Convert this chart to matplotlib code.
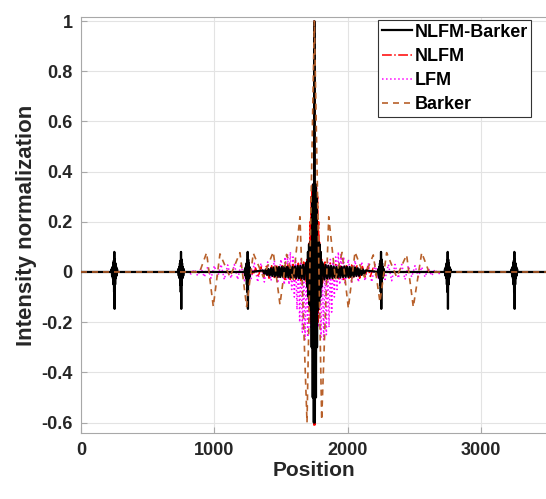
import numpy as np
import matplotlib
matplotlib.use("Agg")
import matplotlib.pyplot as plt

plt.rcParams['font.family'] = ['Liberation Sans', 'DejaVu Sans']

# ---------------- data ----------------
x_ticks = [0, 1000, 2000, 3000]
y_ticks = [-0.6, -0.4, -0.2, 0, 0.2, 0.4, 0.6, 0.8, 1]
y_tick_labels = ['-0.6', '-0.4', '-0.2', '0', '0.2', '0.4', '0.6', '0.8', '1']
series_names = ['NLFM-Barker', 'NLFM', 'LFM', 'Barker']

# NLFM-Barker: main peak position and satellite peaks
main_peak = 1750
satellite_pos = [250, 750, 1250, 2250, 2750, 3250]
sat_off = [-24, -20, -17, -14, -11, -8, -6, -4, -2, 0, 2, 4, 6, 8, 11, 14, 17, 20, 24]
sat_val = [0, 0.012, -0.015, 0.02, -0.025, 0.035, -0.05, 0.045, -0.08, 0.08,
           -0.147, 0.05, -0.05, 0.035, -0.025, 0.02, -0.015, 0.012, 0]
nb_outer_left = [0.006, -0.008, 0.01, -0.012, 0.012, -0.015, 0.015, -0.016, 0.018, -0.018, 0.018,
                 -0.02, 0.02, -0.02, 0.02, -0.02, 0.022, -0.02, 0.02, -0.022, 0.022, -0.022,
                 0.02, -0.022, 0.022, -0.024, 0.024, -0.025, 0.025, -0.026, 0.028, -0.03, 0.03]
nb_inner = [0.04, -0.06, 0.08, -0.1, 0.11, -0.13, 0.12, -0.15, 0.12, -0.3, 0.3, -0.5, 0.35, -0.6,
            1.0,
            -0.6, 0.35, -0.5, 0.3, -0.3, 0.12, -0.15, 0.12, -0.13, 0.11, -0.1, 0.08, -0.06, 0.04]
nb_outer_right = [0.03, -0.03, 0.028, -0.026, 0.025, -0.025, 0.024, -0.024, 0.022, -0.022, 0.02,
                  -0.022, 0.022, -0.022, 0.02, -0.02, 0.022, -0.02, 0.02, -0.02, 0.02, -0.02,
                  0.018, -0.018, 0.018, -0.016, 0.015, -0.015, 0.012, -0.012, 0.01, -0.008, 0.006]

# NLFM
nlfm_left = [0.0, 0.01, -0.012, 0.015, -0.018, 0.02, -0.02, 0.022, -0.025, 0.025, -0.022, 0.028,
             -0.025, 0.025, -0.03, 0.028, -0.03, 0.03, -0.03, 0.035, -0.035, 0.04, -0.045]
nlfm_inner = [0.05, -0.05, 0.08, -0.1, 0.12, -0.15, 0.2, -0.2, 0.3, -0.3, 0.35, -0.45, 0.35, -0.61,
              1.0,
              -0.61, 0.35, -0.45, 0.35, -0.3, 0.3, -0.2, 0.2, -0.15, 0.12, -0.1, 0.08, -0.05, 0.05]
nlfm_right = [-0.045, 0.04, -0.035, 0.035, -0.03, 0.03, -0.03, 0.028, -0.03, 0.025, -0.025, 0.028,
              -0.022, 0.025, -0.025, 0.022, -0.02, 0.02, -0.018, 0.015, -0.012, 0.01, 0.0]

# LFM
lfm_left = [0.0, -0.008, 0.01, -0.015, 0.015, -0.02, 0.02, -0.025, 0.025, -0.02, 0.03, -0.03,
            0.028, -0.025, 0.03, -0.03, 0.032, -0.035, 0.03, -0.03, 0.035, -0.04, 0.035, -0.04,
            0.04, -0.035, 0.045, -0.045, 0.05, -0.05]
lfm_center = [0.06, -0.03, 0.07, -0.05, 0.08, -0.07, 0.06, -0.1, 0.05, -0.15, 0.04, -0.2, 0.05,
              -0.24, 0.03, -0.27, 0.02, -0.26, 0.03, -0.22, 0.15, -0.25,
              1.0,
              -0.25, 0.15, -0.22, 0.03, -0.26, 0.02, -0.27, 0.03, -0.25, 0.04, -0.22, 0.05, -0.16,
              0.04, -0.1, 0.06, -0.07, 0.08, -0.05, 0.07, -0.03, 0.06]
lfm_right = [-0.05, 0.05, -0.045, 0.045, -0.04, 0.04, -0.035, 0.035, -0.04, 0.03, -0.03, 0.035,
             -0.03, 0.03, -0.035, 0.03, -0.025, 0.03, -0.03, 0.025, -0.02, 0.025, -0.02, 0.02,
             -0.02, 0.015, -0.015, 0.01, -0.008, 0.0]

# Barker (extrema)
barker_x = [0, 890, 942, 992, 1042, 1117, 1192, 1242, 1292, 1367, 1442, 1492, 1542, 1592, 1642,
            1695, 1750, 1805, 1858, 1908, 1958, 2005, 2055, 2125, 2192, 2242, 2292, 2367, 2442,
            2492, 2555, 2610, 3500]
barker_y = [0, 0, 0.077, -0.138, 0.072, -0.02, 0.077, -0.138, 0.075, -0.02, 0.08, -0.13, 0.07,
            -0.03, 0.22, -0.6, 1.0, -0.59, 0.22, -0.03, 0.078, -0.145, 0.08, -0.02, 0.068, -0.12,
            0.077, -0.02, 0.068, -0.14, 0.077, 0, 0]

x_min, x_max = 0, 3500

# ---------------- build series ----------------
def section(start, step, vals):
    return list(start + step * np.arange(len(vals))), list(vals)

# NLFM-Barker
nb_x, nb_y = [x_min], [0.0]
centre_off = list(-385 + 10 * np.arange(len(nb_outer_left))) + \
             list(-56 + 4 * np.arange(len(nb_inner))) + \
             list(65 + 10 * np.arange(len(nb_outer_right)))
centre_val = nb_outer_left + nb_inner + nb_outer_right
peaks = sorted(satellite_pos + [main_peak])
for p in peaks:
    if p == main_peak:
        nb_x += [p + o for o in centre_off]
        nb_y += centre_val
    else:
        nb_x += [p + o for o in sat_off]
        nb_y += sat_val
nb_x.append(x_max); nb_y.append(0.0)

# NLFM
nl_x, nl_y = [x_min], [0.0]
sx, sy = section(1250, 20, nlfm_left); nl_x += sx; nl_y += sy
nl_x += [main_peak + o for o in (-56 + 4 * np.arange(len(nlfm_inner)))]; nl_y += nlfm_inner
sx, sy = section(1810, 20, nlfm_right); nl_x += sx; nl_y += sy
nl_x.append(x_max); nl_y.append(0.0)

# LFM
lf_x, lf_y = [x_min], [0.0]
sx, sy = section(800, 25, lfm_left); lf_x += sx; lf_y += sy
sx, sy = section(1530, 10, lfm_center); lf_x += sx; lf_y += sy
sx, sy = section(1980, 25, lfm_right); lf_x += sx; lf_y += sy
lf_x.append(x_max); lf_y.append(0.0)

# ---------------- plot ----------------
fig = plt.figure(figsize=(5.46, 4.99), dpi=100)
ax = fig.add_axes([81 / 546, 1 - 433.3 / 499, 466.7 / 546, 416 / 499])

l1, = ax.plot(nb_x, nb_y, color='black', lw=1.6, ls='-', zorder=4, label=series_names[0])
l2, = ax.plot(nl_x, nl_y, color='#ff0000', lw=1.1, ls='-.', zorder=3, label=series_names[1])
l3, = ax.plot(lf_x, lf_y, color='#ff00ff', lw=1.1, ls=':', zorder=2, label=series_names[2])
l4, = ax.plot(barker_x, barker_y, color='#b8602a', lw=1.2, ls=(0, (3.6, 3.0)), zorder=5,
              label=series_names[3])

ax.set_xlim(x_min, x_max)
ax.set_ylim(-0.643, 1.015)
ax.set_xticks(x_ticks)
ax.set_xticklabels([str(t) for t in x_ticks])
ax.set_yticks(y_ticks)
ax.set_yticklabels(y_tick_labels)
ax.grid(True, color='#e3e3e3', lw=0.8, zorder=0)
ax.set_axisbelow(True)
for s in ax.spines.values():
    s.set_color('#a8a8a8')
    s.set_linewidth(0.8)
ax.tick_params(direction='in', length=4, width=0.8, color='#a8a8a8', labelcolor='#262626',
               labelsize=13, pad=6)
for lab in ax.get_xticklabels() + ax.get_yticklabels():
    lab.set_fontweight('bold')
ax.set_xlabel('Position', fontsize=15, fontweight='bold', color='#262626', labelpad=2)
ax.set_ylabel('Intensity normalization', fontsize=16, fontweight='bold', color='#262626', labelpad=3)

leg = ax.legend(loc='upper right', bbox_to_anchor=(0.965, 0.9935), borderaxespad=0,
                prop={'weight': 'bold', 'size': 13}, handlelength=1.66, handletextpad=0.15,
                borderpad=0.2, labelspacing=0.4, fancybox=False, framealpha=1)
leg.get_frame().set_edgecolor('#333333')
leg.get_frame().set_linewidth(0.8)
leg.set_zorder(10)

fig.savefig('out.png', dpi=100)
